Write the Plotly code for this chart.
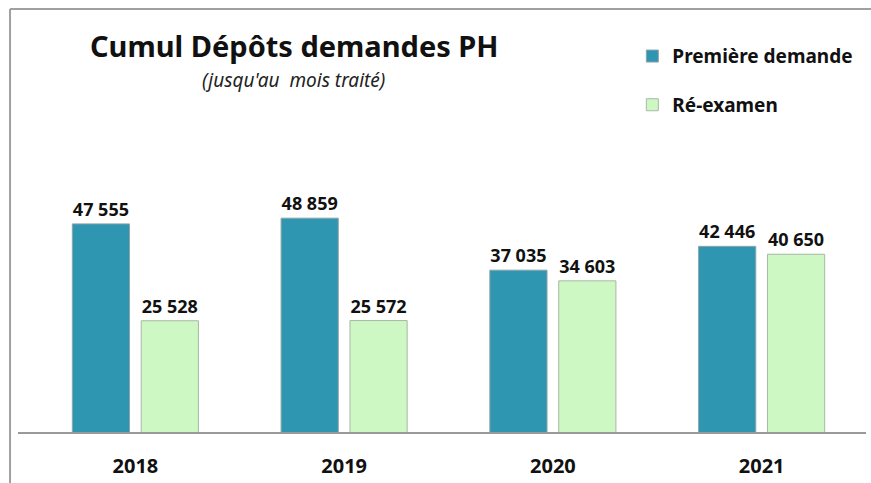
import plotly.graph_objects as go

# données
annees = ["2018", "2019", "2020", "2021"]
premiere_demande = [47555, 48859, 37035, 42446]
re_examen = [25528, 25572, 34603, 40650]

BLEU = "#2f96b2"
VERT = "#cdf7c3"
POLICE = "Noto Sans"

fig = go.Figure()

fig.add_trace(go.Bar(
    x=annees, y=premiere_demande, name="<b>Première demande</b>",
    legendgroup="a",
    marker=dict(color=BLEU, line=dict(color="#8fa3a9", width=1)),
    texttemplate="<b>%{y:,}</b>", textposition="outside",
    textfont=dict(family=POLICE, size=18, color="#111111"),
    cliponaxis=False,
))
fig.add_trace(go.Bar(
    x=annees, y=re_examen, name="<b>Ré-examen</b>",
    legendgroup="b",
    marker=dict(color=VERT, line=dict(color="#a9b8a6", width=1)),
    texttemplate="<b>%{y:,}</b>", textposition="outside",
    textfont=dict(family=POLICE, size=18, color="#111111"),
    cliponaxis=False,
))

fig.update_layout(
    width=871, height=483,
    margin=dict(l=31, r=5, t=90, b=50, autoexpand=False),
    paper_bgcolor="white", plot_bgcolor="white",
    separators=", ",
    barmode="group", bargap=0.34, bargroupgap=0.17,
    font=dict(family=POLICE, color="#111111"),
    showlegend=True,
    legend=dict(
        xref="container", yref="container",
        x=0.726, y=0.923, xanchor="left", yanchor="top",
        font=dict(family=POLICE, size=19, color="#111111"),
        tracegroupgap=21, itemwidth=30,
        bgcolor="rgba(0,0,0,0)",
    ),
    xaxis=dict(
        showgrid=False, showline=False, ticks="",
        tickmode="array", tickvals=annees,
        ticktext=["<b>%s</b>" % a for a in annees],
        tickfont=dict(family=POLICE, size=20, color="#111111"),
        ticklabelstandoff=19,
    ),
    yaxis=dict(range=[0, 78000], visible=False),
)

# titre et sous-titre
fig.add_annotation(
    text="<b>Cumul Dépôts demandes PH</b>",
    xref="paper", yref="paper", x=0.315, y=1.131,
    xanchor="center", yanchor="middle",
    showarrow=False, font=dict(family=POLICE, size=29, color="#111111"),
)
fig.add_annotation(
    text="<i>(jusqu'au  mois traité)</i>",
    xref="paper", yref="paper", x=0.314, y=1.029,
    xanchor="center", yanchor="middle",
    showarrow=False, font=dict(family=POLICE, size=19, color="#222222"),
)

# ligne de base et cadre
fig.add_shape(type="line", xref="paper", yref="paper",
              x0=-0.0156, x1=1.0, y0=0, y1=0,
              line=dict(color="#9a9a9a", width=2))
fig.add_shape(type="line", xref="paper", yref="paper",
              x0=-0.0251, x1=1.01, y0=1.236, y1=1.236,
              line=dict(color="#a0a0a0", width=2))
fig.add_shape(type="line", xref="paper", yref="paper",
              x0=-0.0251, x1=-0.0251, y0=1.236, y1=-0.15,
              line=dict(color="#a0a0a0", width=2))

fig.write_html("out.html", config={"displayModeBar": False},
               post_script="document.body.style.margin='0';")
